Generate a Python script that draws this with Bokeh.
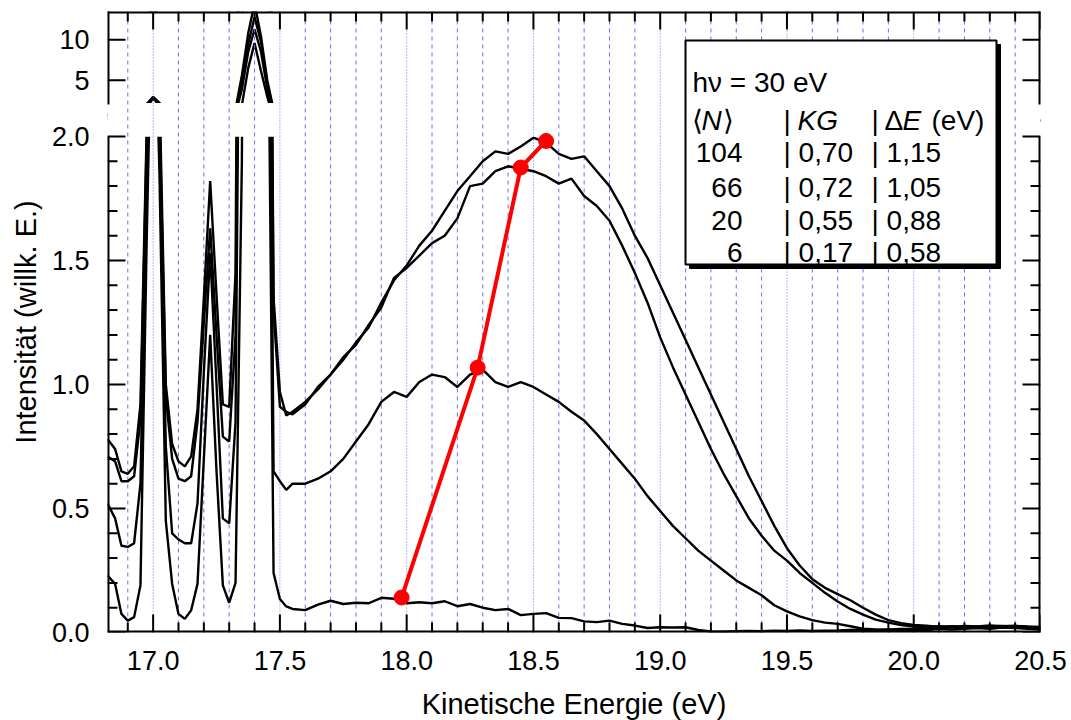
from bokeh.plotting import figure
from bokeh.models import (Range1d, FixedTicker, LinearAxis,
                          PrintfTickFormatter, CustomJSTickFormatter, ColumnDataSource)
from bokeh.embed import file_html
from bokeh.resources import INLINE
from bokeh.core.properties import value

# ---------------- data ----------------
energy = [16.82, 16.85, 16.875, 16.9, 16.925, 16.95, 16.975, 17.0, 17.025, 17.05,
          17.075, 17.1, 17.125, 17.15, 17.175, 17.2, 17.225, 17.25, 17.275, 17.3,
          17.325, 17.35, 17.375, 17.4, 17.425, 17.45, 17.475, 17.5, 17.525, 17.55,
          17.6, 17.65, 17.7, 17.75, 17.8, 17.85, 17.9, 17.95, 18.0,
          18.05, 18.1, 18.15, 18.2, 18.25, 18.3, 18.35, 18.4, 18.45, 18.5,
          18.55, 18.6, 18.65, 18.7, 18.75, 18.8, 18.85, 18.9, 18.95, 19.0,
          19.05, 19.1, 19.15, 19.2, 19.25, 19.3, 19.35, 19.4, 19.45, 19.5,
          19.55, 19.6, 19.65, 19.7, 19.75, 19.8, 19.85, 19.9, 19.95, 20.0,
          20.05, 20.1, 20.15, 20.2, 20.25, 20.3, 20.35, 20.4, 20.45, 20.5]

int_n104 = [0.78, 0.74, 0.65, 0.64, 0.67, 0.92, 2.05, 2.95, 2.2, 1.0,
            0.76, 0.69, 0.67, 0.71, 0.90, 1.35, 1.82, 1.36, 0.92, 0.91,
            1.45, 5.6, 10.8, 14.5, 10.5, 5.0, 1.35, 0.97, 0.875, 0.89,
            0.93, 0.98, 1.04, 1.10, 1.17, 1.23, 1.33, 1.42, 1.48,
            1.56, 1.62, 1.70, 1.78, 1.84, 1.90, 1.94, 1.93, 1.96, 1.995,
            1.975, 1.93, 1.91, 1.92, 1.86, 1.80, 1.71, 1.60, 1.51, 1.40,
            1.29, 1.18, 1.07, 0.96, 0.85, 0.74, 0.63, 0.53, 0.43, 0.34,
            0.27, 0.215, 0.18, 0.155, 0.13, 0.10, 0.072, 0.05, 0.038, 0.03,
            0.027, 0.022, 0.025, 0.022, 0.02, 0.024, 0.026, 0.022, 0.02, 0.018]

int_n66 = [0.71, 0.69, 0.61, 0.61, 0.63, 0.86, 2.0, 2.9, 2.1, 0.95,
           0.70, 0.62, 0.61, 0.63, 0.85, 1.25, 1.63, 1.2, 0.79, 0.77,
           1.2, 4.8, 9.5, 12.8, 9.8, 4.6, 1.3, 0.91, 0.89, 0.88,
           0.92, 0.99, 1.04, 1.11, 1.16, 1.24, 1.31, 1.43, 1.47,
           1.52, 1.57, 1.60, 1.67, 1.80, 1.81, 1.86, 1.88, 1.87, 1.86,
           1.84, 1.81, 1.83, 1.76, 1.72, 1.66, 1.56, 1.45, 1.33, 1.19,
           1.07, 0.96, 0.85, 0.74, 0.64, 0.55, 0.46, 0.39, 0.33, 0.29,
           0.24, 0.20, 0.16, 0.125, 0.095, 0.072, 0.052, 0.04, 0.03, 0.024,
           0.022, 0.025, 0.022, 0.026, 0.024, 0.028, 0.025, 0.027, 0.024, 0.022]

int_n20 = [0.52, 0.46, 0.35, 0.345, 0.36, 0.60, 1.85, 2.85, 2.0, 0.75,
           0.40, 0.375, 0.36, 0.36, 0.52, 1.05, 1.53, 1.0, 0.46, 0.44,
           0.85, 3.9, 8.5, 11.3, 8.6, 4.0, 0.65, 0.61, 0.575, 0.60,
           0.60, 0.62, 0.65, 0.70, 0.77, 0.84, 0.93, 0.97, 0.95,
           1.01, 1.04, 1.03, 0.99, 1.04, 1.06, 1.01, 0.99, 1.01, 0.99,
           0.96, 0.93, 0.89, 0.855, 0.80, 0.74, 0.68, 0.62, 0.55, 0.49,
           0.43, 0.38, 0.33, 0.29, 0.25, 0.21, 0.18, 0.15, 0.11, 0.085,
           0.065, 0.05, 0.04, 0.035, 0.025, 0.015, 0.012, 0.01, 0.01, 0.012,
           0.01, 0.015, 0.012, 0.015, 0.018, 0.015, 0.02, 0.018, 0.015, 0.012]

int_n6 = [0.23, 0.196, 0.075, 0.048, 0.062, 0.19, 1.6, 2.8, 1.85, 0.45,
          0.196, 0.075, 0.055, 0.09, 0.196, 0.7, 1.20, 0.65, 0.19, 0.12,
          0.2, 1.9, 6.5, 9.6, 6.2, 3.0, 0.24, 0.135, 0.105, 0.095,
          0.09, 0.112, 0.128, 0.115, 0.12, 0.118, 0.14, 0.136, 0.118,
          0.122, 0.118, 0.126, 0.106, 0.115, 0.1, 0.09, 0.095, 0.07, 0.075,
          0.078, 0.059, 0.058, 0.045, 0.042, 0.048, 0.035, 0.028, 0.018, 0.021,
          0.02, 0.021, 0.01, 0.004, 0.003, 0.005, 0.006, 0.005, 0.007, 0.006,
          0.008, 0.006, 0.007, 0.008, 0.01, 0.012, 0.01, 0.012, 0.014, 0.015,
          0.018, 0.02, 0.022, 0.02, 0.024, 0.022, 0.025, 0.024, 0.022, 0.02]

# maxima marked in red
max_energy = [17.98, 18.28, 18.45, 18.55]
max_intensity = [0.141, 1.068, 1.875, 1.982]

# tick positions
x_major = [17.0, 17.5, 18.0, 18.5, 19.0, 19.5, 20.0, 20.5]
x_minor = [16.9, 17.1, 17.2, 17.3, 17.4, 17.6, 17.7, 17.8, 17.9, 18.1, 18.2, 18.3,
           18.4, 18.6, 18.7, 18.8, 18.9, 19.1, 19.2, 19.3, 19.4, 19.6, 19.7, 19.8,
           19.9, 20.1, 20.2, 20.3, 20.4]
y_major = [0.0, 0.5, 1.0, 1.5, 2.0]
y_minor = [0.1, 0.2, 0.3, 0.4, 0.6, 0.7, 0.8, 0.9, 1.1, 1.2, 1.3, 1.4,
           1.6, 1.7, 1.8, 1.9]
top_ticks = [5, 10]

# vertical reference lines every 0.1 eV (dotted at multiples of 0.5 eV)
ref_dashed = x_minor
ref_dotted = [17.0, 17.5, 18.0, 18.5, 19.0, 19.5, 20.0]

legend_title = "hν = 30 eV"
legend_N = ["104", "66", "20", "6"]
legend_KG = ["0,70", "0,72", "0,55", "0,17"]
legend_dE = ["1,15", "1,05", "0,88", "0,58"]

for s in (int_n104, int_n66, int_n20, int_n6):
    assert len(s) == len(energy)

# ---------------- layout ----------------
FONT = "Liberation Sans"
X0, X1 = 16.82, 20.5
FRAME_W = 933
BOT_PX, GAP_PX, TOP_PX = 496, 32, 93
FRAME_H = BOT_PX + GAP_PX + TOP_PX
LOW_TOP = 2.0
y_main_end = LOW_TOP * FRAME_H / BOT_PX
top_lo, top_hi = 2.0, 13.5
top_scale = TOP_PX / (top_hi - top_lo)
top_start = top_hi - FRAME_H / top_scale

PX_E = FRAME_W / (X1 - X0)
PX_I = BOT_PX / LOW_TOP
PAGE_LEFT, PAGE_BOTTOM = 107, 632
MAJ, MIN = 18, 10  # tick lengths (px)


def ex(px):
    return X0 + (px - PAGE_LEFT) / PX_E


def iy(py):
    return (PAGE_BOTTOM - py) / PX_I


def main_pos(v):
    return LOW_TOP + (GAP_PX + (v - top_lo) * top_scale) / PX_I


p = figure(frame_width=FRAME_W, frame_height=FRAME_H,
           x_range=Range1d(X0, X1), y_range=Range1d(0, y_main_end),
           output_backend="svg", toolbar_location=None,
           min_border_left=107, min_border_right=31, min_border_top=11,
           min_border_bottom=88)
p.extra_y_ranges = {"top": Range1d(top_start, top_hi)}
p.outline_line_color = None
p.grid.visible = False

TICK_FS = "27px"
LABEL_FS = "29px"
blank = CustomJSTickFormatter(code="return ''")


def label_axis(ax):
    ax.axis_line_color = None
    ax.major_tick_line_color = None
    ax.minor_tick_line_color = None
    ax.major_tick_in = 0
    ax.major_tick_out = 0
    ax.minor_tick_in = 0
    ax.minor_tick_out = 0
    ax.major_label_text_font = FONT
    ax.major_label_text_color = "black"
    ax.major_label_text_font_size = TICK_FS
    ax.axis_label_text_font = FONT
    ax.axis_label_text_font_size = LABEL_FS
    ax.axis_label_text_font_style = "normal"
    ax.axis_label_text_color = "black"


xb = p.xaxis[0]
xb.ticker = FixedTicker(ticks=x_major, minor_ticks=[])
xb.formatter = PrintfTickFormatter(format="%.1f")
xb.axis_label = "Kinetische Energie (eV)"
label_axis(xb)
xb.major_label_standoff = 18
xb.axis_label_standoff = 15

label_ticks = y_major + [main_pos(v) for v in top_ticks]
yl = p.yaxis[0]
yl.ticker = FixedTicker(ticks=label_ticks, minor_ticks=[])
yl.formatter = CustomJSTickFormatter(
    args=dict(lim=LOW_TOP + 1e-6, base=LOW_TOP, lo=top_lo, gap=GAP_PX / PX_I,
              k=PX_I / top_scale),
    code="if (tick > lim) { return String(Math.round(lo + (tick - base - gap) * k)); }"
         " return tick.toFixed(1);")
label_axis(yl)
yl.major_label_standoff = 18

ylab = LinearAxis(ticker=FixedTicker(ticks=[], minor_ticks=[]), bounds=(0, LOW_TOP),
                  formatter=blank, axis_label="Intensität (willk. E.)")
label_axis(ylab)
ylab.major_label_standoff = 0
ylab.axis_label_standoff = 7
p.add_layout(ylab, "left")

# ---------------- glyphs ----------------
src = ColumnDataSource(dict(E=energy, a=int_n104, b=int_n66, c=int_n20, d=int_n6))
GRID_COLOR = "#6b6bff"
CURVE_W = 2.4

p.segment(x0=ref_dashed, y0=[0] * len(ref_dashed), x1=ref_dashed,
          y1=[LOW_TOP] * len(ref_dashed), line_color=GRID_COLOR, line_width=1,
          line_dash="4 4")
p.segment(x0=ref_dotted, y0=[0] * len(ref_dotted), x1=ref_dotted,
          y1=[LOW_TOP] * len(ref_dotted), line_color=GRID_COLOR, line_width=1,
          line_dash="1 2")

for col in ("a", "b", "c", "d"):
    p.line("E", col, source=src, line_color="black", line_width=CURVE_W)

p.quad(left=X0 - 1, right=X1 + 1, bottom=LOW_TOP, top=y_main_end + 1,
       fill_color="white", line_color=None)

for col in ("a", "b", "c", "d"):
    p.line("E", col, source=src, line_color="black", line_width=CURVE_W,
           y_range_name="top")

p.quad(left=X0 - 1, right=X1 + 1, bottom=top_lo - GAP_PX / top_scale,
       top=top_lo + 1.5 / top_scale,
       fill_color="white", line_color=None, y_range_name="top")

p.segment(x0=ref_dashed, y0=[LOW_TOP] * len(ref_dashed), x1=ref_dashed,
          y1=[y_main_end] * len(ref_dashed), line_color=GRID_COLOR, line_width=1,
          line_dash="4 4")
p.segment(x0=ref_dotted, y0=[LOW_TOP] * len(ref_dotted), x1=ref_dotted,
          y1=[y_main_end] * len(ref_dotted), line_color=GRID_COLOR, line_width=1,
          line_dash="1 2")

# ---------------- legend box ----------------
BL, BR, BT, BB, SH = 685, 996, 40, 264, 4
p.quad(left=ex(BL + SH), right=ex(BR + SH), top=iy(BT + SH), bottom=iy(BB + SH),
       fill_color="black", line_color="black", line_width=1)
p.quad(left=ex(BL), right=ex(BR), top=iy(BT), bottom=iy(BB),
       fill_color="white", line_color="black", line_width=2)

LFS = "28px"


def txt(px, py, s, align="left", style_="normal"):
    p.text(x=[ex(px)], y=[iy(py)], text=[s], text_font=value(FONT), text_font_size=LFS,
           text_align=align, text_baseline="alphabetic", text_color="black",
           text_font_style=style_)


txt(692, 82, legend_title)
txt(691, 120, "⟨")
txt(701, 120, "N", style_="italic")
txt(722, 120, "⟩")
txt(783, 120, "|")
txt(797, 120, "KG", style_="italic")
txt(871, 120, "|")
txt(884, 120, "Δ")
txt(902, 120, "E", style_="italic")
txt(931, 120, "(eV)")
row_y = [152, 187, 220, 252]
for ry, n, kg, de in zip(row_y, legend_N, legend_KG, legend_dE):
    txt(742, ry, n, align="right")
    txt(783, ry, "| " + kg)
    txt(871, ry, "| " + de)

# ---------------- maxima ----------------
p.line(max_energy, max_intensity, line_color="red", line_width=4)
p.scatter(max_energy, max_intensity, size=15, fill_color="red", line_color="red")

# ---------------- frame lines and inward ticks ----------------
FR = dict(line_color="black", line_width=4)
TK = dict(line_color="black", line_width=2)
dy_maj, dy_min = MAJ / PX_I, MIN / PX_I
dx_maj, dx_min = MAJ / PX_E, MIN / PX_E


def seg(x0, y0, x1, y1, style, **kw):
    n = max(len(v) if isinstance(v, list) else 1 for v in (x0, y0, x1, y1))
    cols = [v if isinstance(v, list) else [v] * n for v in (x0, y0, x1, y1)]
    p.segment(x0=cols[0], y0=cols[1], x1=cols[2], y1=cols[3], **style, **kw)


seg([X0, X0], [0, y_main_end], [X1, X1], [0, y_main_end], FR)
seg([X0, X1], 0, [X0, X1], LOW_TOP, FR)
seg([X0, X1], top_lo, [X0, X1], top_hi + 1, FR, y_range_name="top")

for xs, dy in ((x_major, dy_maj), (x_minor, dy_min)):
    seg(xs, 0, xs, dy, TK)
    seg(xs, y_main_end, xs, y_main_end - dy, TK)
for yv, dx in ((y_major, dx_maj), (y_minor, dx_min)):
    seg(X0, yv, X0 + dx, yv, TK)
    seg(X1, yv, X1 - dx, yv, TK)
seg(X0, top_ticks, X0 + dx_maj, top_ticks, TK, y_range_name="top")
seg(X1, top_ticks, X1 - dx_maj, top_ticks, TK, y_range_name="top")

open("out.html", "w").write(file_html(p, INLINE))
